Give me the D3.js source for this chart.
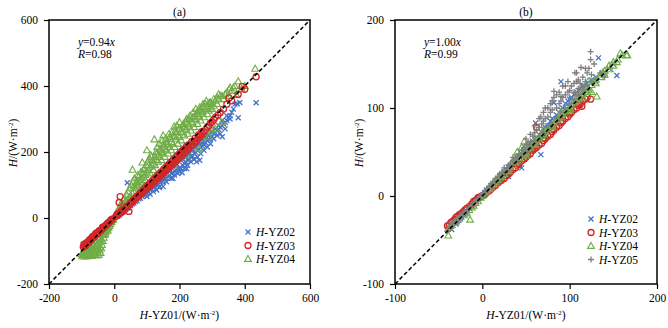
<!DOCTYPE html>
<html>
<head>
<meta charset="utf-8">
<script src="https://cdn.jsdelivr.net/npm/d3@7"></script>
<style>
  body { margin: 0; background: #fff; }
</style>
</head>
<body>
<div id="chart"></div>
<script>
// ---- data, [H-YZ01, H-station] pairs ----

// panel (a)
var aYZ02 = [[-95,-80],[-92,-85],[-90,-78],[-88,-82],[-85,-75],[-82,-72],[-80,-76],[-78,-68],[-75,-70],[-72,-62],[-70,-66],[-68,-58],[-65,-60],[-62,-55],[-60,-50],[-58,-54],[-55,-48],[-52,-45],[-50,-47],[-48,-40],[-45,-42],[-42,-36],[-40,-38],[-38,-32],[-35,-30],[-32,-28],[-30,-25],[-28,-26],[-25,-20],[-22,-19],[-20,-17],[-18,-14],[-15,-13],[-12,-10],[-10,-8],[-8,-7],[-5,-4],[-3,-2],
  [5,4],[8,10],[10,6],[12,12],[15,10],[18,16],[20,14],[22,20],[25,18],[28,24],[30,20],[32,28],[35,26],[38,30],[40,107],[40,32],[42,36],[45,30],[48,40],[50,38],[52,45],[55,42],[58,50],[60,45],[62,55],[65,50],[68,58],[70,52],[72,64],[75,58],[78,68],[80,60],[82,72],[85,65],[88,78],[90,68],[92,80],[95,72],[98,88],[100,75],[100,65],[102,90],[105,80],[108,95],[110,85],[110,72],[112,98],[115,88],[118,105],[120,92],[120,80],[122,108],[125,95],[128,112],[130,98],[130,85],[132,118],[135,102],[138,92],[140,108],[140,95],[142,125],[145,110],[148,130],[150,112],[150,95],[150,128],[152,135],[155,118],[158,140],[160,120],[160,110],[162,145],[165,125],[168,150],[170,130],[170,145],[172,155],[175,135],[175,120],[178,160],[180,138],[180,120],[182,165],[185,142],[185,130],[188,170],[190,145],[190,165],[192,175],[195,150],[195,135],[198,180],[200,152],[200,140],[205,185],[205,150],[208,137],[210,160],[210,178],[212,190],[215,165],[215,150],[218,195],[220,170],[220,185],[222,150],[225,175],[225,160],[228,200],[230,180],[230,195],[235,185],[235,170],[238,210],[240,188],[240,205],[245,195],[245,178],[248,220],[250,198],[250,215],[252,170],[255,205],[255,185],[258,228],[260,208],[260,222],[262,175],[265,215],[265,195],[268,235],[270,218],[270,230],[275,222],[275,205],[278,245],[280,228],[280,240],[285,235],[285,215],[288,250],[290,238],[290,250],[295,242],[295,225],[298,262],[300,248],[300,260],[305,255],[305,240],[310,258],[310,270],[315,265],[315,250],[320,268],[320,280],[325,275],[325,255],[330,280],[330,295],[331,246],[335,285],[340,290],[340,270],[345,295],[345,310],[350,305],[355,310],[355,300],[360,320],[365,330],[370,345],[380,304],[377,346],[385,350],[435,349]];

var aYZ03 = [[-95,-88],[-93,-80],[-92,-85],[-90,-80],[-88,-84],[-87,-76],[-85,-78],[-82,-76],[-80,-72],[-78,-74],[-76,-66],[-75,-68],[-72,-66],[-70,-62],[-68,-64],[-66,-56],[-65,-58],[-62,-56],[-60,-52],[-58,-54],[-56,-46],[-55,-48],[-52,-46],[-50,-44],[-48,-45],[-46,-38],[-45,-40],[-42,-38],[-40,-35],[-38,-34],[-36,-28],[-35,-30],[-32,-28],[-30,-26],[-28,-25],[-25,-22],[-22,-18],[-20,-16],[-18,-15],[-15,-12],[-12,-10],[-10,-6],[-8,-5],[-5,-3],
  [5,5],[8,10],[10,8],[12,14],[15,12],[18,65],[15,47],[20,16],[22,22],[25,20],[28,26],[30,25],[35,30],[38,36],[40,34],[45,20],[48,42],[50,45],[52,48],[55,48],[58,55],[60,52],[62,58],[65,58],[68,64],[70,62],[72,68],[75,66],[78,74],[80,72],[82,78],[85,76],[88,84],[90,80],[92,88],[95,85],[98,94],[100,90],[102,98],[105,94],[108,104],[110,98],[112,108],[115,104],[118,114],[120,108],[122,118],[125,112],[128,124],[130,118],[132,128],[135,122],[138,134],[140,126],[142,138],[145,130],[148,143],[150,135],[152,148],[155,140],[158,153],[160,145],[162,158],[165,150],[168,163],[170,155],[172,168],[175,160],[178,173],[180,163],[182,178],[185,168],[188,183],[190,172],[192,188],[195,178],[198,193],[200,182],[202,198],[205,188],[208,203],[210,192],[212,208],[215,198],[218,212],[220,202],[222,218],[225,208],[228,222],[230,212],[235,218],[238,232],[240,222],[245,228],[248,242],[250,232],[255,240],[258,252],[260,245],[265,250],[268,262],[270,255],[275,262],[280,268],[285,275],[290,280],[295,288],[300,292],[305,298],[310,305],[318,312],[325,320],[335,330],[345,345],[352,364],[360,355],[380,375],[392,398],[400,390],[435,428]];

var aYZ04 = [[-100,-110],[-98,-116],[-95,-105],[-95,-113],[-92,-100],[-92,-110],[-90,-95],[-90,-117],[-88,-106],[-85,-92],[-85,-112],[-82,-100],[-82,-108],[-80,-88],[-80,-116],[-78,-96],[-78,-106],[-75,-85],[-75,-112],[-72,-92],[-72,-102],[-70,-80],[-70,-110],[-68,-96],[-68,-115],[-65,-78],[-65,-104],[-62,-88],[-62,-112],[-60,-72],[-60,-98],[-58,-108],[-55,-68],[-55,-85],[-55,-114],[-52,-95],[-50,-62],[-50,-78],[-50,-105],[-48,-112],[-45,-58],[-45,-88],[-45,-98],[-42,-72],[-42,-106],[-40,-52],[-40,-65],[-40,-92],[-38,-82],[-35,-48],[-35,-70],[-32,-60],[-30,-40],[-30,-52],[-28,-48],[-25,-35],[-25,-42],[-22,-32],[-20,-26],[-20,-38],[-18,-30],[-15,-20],[-15,-25],[-12,-18],[-10,-12],[-8,-12],[-5,-6],[-3,-4],
  [5,8],[8,15],[10,12],[12,25],[15,20],[18,35],[20,28],[22,45],[25,35],[28,55],[30,40],[32,60],[35,50],[38,70],[40,55],[42,80],[45,60],[48,90],[50,65],[52,100],[55,75],[56,146],[58,110],[60,80],[60,95],[62,120],[65,90],[68,105],[70,95],[70,110],[72,130],[75,100],[75,125],[78,115],[80,110],[82,140],[85,120],[85,105],[86,168],[88,135],[90,125],[90,145],[92,150],[95,130],[95,115],[98,160],[100,140],[100,205],[102,170],[105,145],[105,160],[108,180],[110,155],[110,135],[112,190],[115,160],[115,185],[118,175],[120,165],[120,145],[123,238],[125,185],[125,160],[128,200],[130,175],[130,195],[132,215],[135,190],[135,170],[138,225],[140,185],[140,210],[140,130],[142,205],[145,200],[145,175],[148,235],[150,195],[150,220],[150,250],[152,215],[155,210],[155,185],[158,240],[160,205],[160,230],[160,150],[162,225],[165,220],[165,195],[168,255],[170,215],[170,245],[172,240],[175,230],[175,205],[178,260],[180,225],[180,250],[180,160],[184,277],[185,245],[185,215],[188,265],[190,240],[190,260],[192,280],[195,250],[195,225],[198,270],[200,245],[200,270],[200,290],[200,185],[205,265],[205,235],[210,260],[210,280],[212,285],[215,275],[215,250],[220,270],[220,290],[220,190],[222,300],[225,285],[225,255],[230,280],[230,300],[232,310],[235,295],[235,265],[240,290],[240,305],[240,215],[242,320],[245,305],[245,275],[250,300],[250,315],[250,330],[255,315],[255,285],[260,310],[260,325],[260,210],[262,335],[265,325],[265,295],[270,320],[270,335],[270,240],[272,345],[275,335],[275,305],[280,330],[280,345],[282,355],[285,340],[285,315],[290,246],[290,325],[291,349],[295,350],[295,335],[300,345],[300,330],[300,265],[305,360],[305,340],[310,270],[310,355],[315,365],[315,345],[320,360],[320,375],[325,370],[330,290],[330,370],[335,360],[340,375],[345,380],[350,370],[352,389],[355,395],[360,385],[365,395],[370,400],[375,372],[380,414],[390,390],[400,400],[432,452]];

// panel (b)
var bYZ02 = [[-40,-38],[-38,-36],[-35,-34],[-35,-38],[-33,-30],[-30,-27],[-30,-32],[-28,-26],[-25,-24],[-25,-26],[-22,-20],[-20,-18],[-20,-22],[-18,-17],[-15,-14],[-12,-11],[-10,-9],[-8,-6],[-5,-4],[-3,-2],[0,1],[3,4],[5,7],[8,9],[10,12],[10,10],[12,14],[15,16],[18,20],[20,23],[20,19],[22,24],[25,28],[25,24],[28,30],[30,33],[30,22],[32,35],[35,38],[35,35],[38,40],[40,44],[40,39],[42,45],[45,48],[45,32],[48,52],[50,54],[50,50],[52,56],[55,60],[55,57],[58,62],[60,65],[60,60],[62,66],[61,83],[65,70],[67,47],[68,72],[70,76],[70,72],[72,78],[75,80],[75,78],[78,85],[80,88],[80,82],[82,106],[85,92],[85,88],[88,95],[90,98],[90,130],[92,100],[95,105],[95,98],[98,108],[100,110],[100,102],[102,112],[105,115],[105,108],[108,118],[110,120],[110,113],[112,122],[115,125],[115,118],[118,120],[120,128],[125,132],[130,135],[133,157],[140,140],[145,145],[150,150],[154,137]];

var bYZ03 = [[-40,-34],[-38,-33],[-36,-30],[-34,-29],[-32,-27],[-30,-24],[-28,-23],[-26,-21],[-24,-20],[-22,-18],[-20,-16],[-18,-14],[-15,-12],[-12,-9],[-10,-6],[-8,-5],[-5,-2],[-3,-1],[0,0],[3,2],[5,4],[8,6],[10,8],[12,10],[15,12],[18,15],[20,17],[20,19],[22,18],[25,20],[28,23],[30,25],[30,27],[32,27],[35,30],[38,32],[40,35],[40,37],[42,36],[45,40],[48,42],[50,44],[50,47],[52,46],[55,48],[58,52],[60,54],[60,57],[62,78],[62,55],[65,58],[68,60],[70,63],[70,66],[72,65],[75,68],[78,70],[80,73],[80,76],[82,75],[85,78],[88,80],[90,83],[90,85],[92,85],[95,88],[98,90],[100,93],[100,95],[102,95],[105,98],[108,100],[110,103],[110,105],[112,104],[114,102],[115,108],[118,110],[120,112],[124,110]];

var bYZ04 = [[-39,-45],[-38,-36],[-35,-33],[-32,-30],[-30,-29],[-28,-27],[-25,-24],[-22,-22],[-20,-20],[-18,-19],[-15,-16],[-14,-27],[-12,-13],[-10,-11],[-8,-8],[-5,-6],[-2,-2],[0,0],[3,3],[5,5],[8,8],[10,10],[12,13],[15,15],[18,18],[20,21],[20,24],[22,22],[25,25],[28,28],[30,31],[30,28],[32,33],[35,35],[35,40],[38,38],[40,40],[40,50],[42,43],[45,46],[45,55],[48,48],[48,62],[50,50],[50,46],[52,53],[55,55],[58,58],[60,61],[60,58],[62,63],[65,66],[68,68],[70,70],[70,75],[72,73],[75,76],[78,78],[80,80],[80,78],[82,83],[85,86],[88,88],[90,90],[90,95],[92,93],[95,96],[98,98],[100,100],[100,97],[102,103],[105,106],[108,108],[110,110],[110,115],[112,113],[115,116],[115,112],[118,118],[120,122],[120,118],[121,130],[122,120],[125,126],[125,118],[128,130],[130,132],[130,128],[131,113],[135,135],[135,138],[138,140],[140,142],[140,138],[145,148],[146,144],[150,152],[150,148],[154,152],[155,155],[158,162],[160,160],[165,160],[166,160]];

var bYZ05 = [[-40,-40],[-37,-35],[-35,-33],[-35,-30],[-32,-30],[-30,-28],[-30,-30],[-28,-25],[-28,-30],[-25,-22],[-25,-25],[-22,-20],[-22,-22],[-20,-18],[-20,-20],[-18,-16],[-15,-13],[-15,-15],[-12,-10],[-10,-8],[-10,-10],[-8,-6],[-5,-3],[-5,-5],[-2,0],[0,2],[3,5],[5,8],[5,6],[8,10],[10,12],[10,14],[12,15],[15,18],[15,20],[18,20],[20,24],[20,20],[22,26],[25,28],[25,32],[28,32],[30,35],[30,30],[32,36],[35,40],[35,44],[38,43],[40,45],[40,40],[42,48],[45,52],[45,45],[48,55],[50,58],[50,50],[50,65],[52,60],[55,62],[55,70],[55,55],[58,68],[60,72],[60,62],[60,80],[62,75],[65,78],[65,88],[65,68],[67,90],[68,82],[70,85],[70,95],[70,72],[72,88],[72,100],[75,90],[75,100],[75,80],[78,95],[78,105],[80,98],[80,108],[80,82],[82,112],[82,119],[85,100],[85,115],[85,88],[88,105],[88,118],[90,108],[90,113],[90,95],[92,112],[92,125],[95,115],[95,125],[95,100],[98,118],[98,130],[100,120],[100,112],[100,105],[102,125],[105,128],[105,118],[105,110],[106,140],[108,130],[108,140],[110,132],[110,122],[110,115],[112,128],[113,146],[115,125],[115,135],[115,120],[118,130],[118,145],[120,140],[120,125],[122,145],[124,155],[124,164],[125,138],[125,130],[128,150],[130,132],[135,140],[140,135]];

var aTicks = [-200, 0, 200, 400, 600];
var bTicks = [-100, 0, 100, 200];

// ---- layout ----
var width = 668, height = 328;

var colors = { YZ02: "#4472c4", YZ03: "#d02828", YZ04: "#70ad47", YZ05: "#7f7f7f" };

var svg = d3.select("#chart")
  .append("svg")
    .attr("width", width)
    .attr("height", height)
    .attr("font-family", "Liberation Serif, Times New Roman, serif");

// marker drawing helpers
function drawMarks(g, data, x, y, kind, color) {
  var sel = g.selectAll(null).data(data).enter();
  if (kind == "cross") {
    sel.append("path")
      .attr("d", function(d) {
        var cx = x(d[0]), cy = y(d[1]), s = 2.5;
        return "M" + (cx - s) + "," + (cy - s) + "L" + (cx + s) + "," + (cy + s) +
               "M" + (cx - s) + "," + (cy + s) + "L" + (cx + s) + "," + (cy - s);
      })
      .attr("stroke", color).attr("stroke-width", 1.3).attr("fill", "none");
  } else if (kind == "plus") {
    sel.append("path")
      .attr("d", function(d) {
        var cx = x(d[0]), cy = y(d[1]), s = 3;
        return "M" + (cx - s) + "," + cy + "L" + (cx + s) + "," + cy +
               "M" + cx + "," + (cy - s) + "L" + cx + "," + (cy + s);
      })
      .attr("stroke", color).attr("stroke-width", 1.3).attr("fill", "none");
  } else if (kind == "circle") {
    sel.append("circle")
      .attr("cx", function(d) { return x(d[0]); })
      .attr("cy", function(d) { return y(d[1]); })
      .attr("r", 3)
      .attr("stroke", color).attr("stroke-width", 1.3).attr("fill", "none");
  } else {
    sel.append("path")
      .attr("d", function(d) {
        var cx = x(d[0]), cy = y(d[1]);
        return "M" + cx + "," + (cy - 3.6) + "L" + (cx + 3.4) + "," + (cy + 2.4) +
               "L" + (cx - 3.4) + "," + (cy + 2.4) + "Z";
      })
      .attr("stroke", color).attr("stroke-width", 1.1).attr("fill", "none");
  }
}

function panel(opt) {
  var x = d3.scaleLinear().domain(opt.domain).range([opt.left, opt.right]);
  var y = d3.scaleLinear().domain(opt.domain).range([opt.bottom, opt.top]);
  var g = svg.append("g");

  // series
  opt.series.forEach(function(s) {
    drawMarks(g.append("g"), s.data, x, y, s.kind, s.color);
  });

  // 1:1 line
  g.append("line")
    .attr("x1", x(opt.domain[0])).attr("y1", y(opt.domain[0]))
    .attr("x2", x(opt.domain[1])).attr("y2", y(opt.domain[1]))
    .attr("stroke", "#000").attr("stroke-width", 1.5)
    .attr("stroke-dasharray", "4,2.5");

  // axes
  var xa = g.append("g")
    .attr("transform", "translate(0," + opt.bottom + ")")
    .call(d3.axisBottom(x).tickValues(opt.ticks).tickSize(5).tickPadding(5)
      .tickFormat(function(d) { return String(d); }));
  var ya = g.append("g")
    .attr("transform", "translate(" + opt.left + ",0)")
    .call(d3.axisLeft(y).tickValues(opt.ticks).tickSize(5).tickPadding(6)
      .tickFormat(function(d) { return String(d); }));
  [xa, ya].forEach(function(a) {
    a.attr("font-family", null).attr("font-size", null);
    a.select(".domain").remove();
    a.selectAll("text").attr("font-size", "11.5px").attr("fill", "#000");
    a.selectAll("line").attr("stroke", "#000").attr("stroke-width", 1.2);
  });

  // frame
  g.append("rect")
    .attr("x", opt.left).attr("y", opt.top)
    .attr("width", opt.right - opt.left).attr("height", opt.bottom - opt.top)
    .attr("fill", "none").attr("stroke", "#000").attr("stroke-width", 1.5);

  // title
  g.append("text")
    .attr("x", (opt.left + opt.right) / 2).attr("y", 16)
    .attr("text-anchor", "middle").attr("font-size", "11.5px")
    .text(opt.title);

  // fit text
  var t1 = g.append("text").attr("x", opt.left + 29).attr("y", 46).attr("font-size", "11.5px");
  t1.append("tspan").attr("font-style", "italic").text("y");
  t1.append("tspan").text("=" + opt.slope);
  t1.append("tspan").attr("font-style", "italic").text("x");
  var t2 = g.append("text").attr("x", opt.left + 29).attr("y", 58).attr("font-size", "11.5px");
  t2.append("tspan").attr("font-style", "italic").text("R");
  t2.append("tspan").text("=" + opt.r);

  // axis titles
  var xl = g.append("text")
    .attr("x", (opt.left + opt.right) / 2).attr("y", 319)
    .attr("text-anchor", "middle").attr("font-size", "11.5px");
  xl.append("tspan").attr("font-style", "italic").text("H");
  xl.append("tspan").text("-YZ01/(W·m");
  xl.append("tspan").attr("font-size", "7px").attr("dy", "-4").text("-2");
  xl.append("tspan").attr("dy", "4").text(")");

  var yl = g.append("text")
    .attr("transform", "translate(" + (opt.left - 32) + ",143) rotate(-90)")
    .attr("text-anchor", "middle").attr("font-size", "11.5px");
  yl.append("tspan").attr("font-style", "italic").text("H");
  yl.append("tspan").text("/(W·m");
  yl.append("tspan").attr("font-size", "7px").attr("dy", "-4").text("-2");
  yl.append("tspan").attr("dy", "4").text(")");

  // legend
  opt.legend.forEach(function(s, i) {
    var ly = opt.legendY + i * 13.5;
    drawMarks(g.append("g"), [[0, 0]],
      function() { return opt.legendX; }, function() { return ly; }, s.kind, s.color);
    var lt = g.append("text").attr("x", opt.legendX + 8).attr("y", ly + 4).attr("font-size", "11.5px");
    lt.append("tspan").attr("font-style", "italic").text("H");
    lt.append("tspan").text("-" + s.name);
  });
}

var sA = [
  { name: "YZ02", data: aYZ02, kind: "cross", color: colors.YZ02 },
  { name: "YZ04", data: aYZ04, kind: "triangle", color: colors.YZ04 },
  { name: "YZ03", data: aYZ03, kind: "circle", color: colors.YZ03 }
];
var sB = [
  { name: "YZ02", data: bYZ02, kind: "cross", color: colors.YZ02 },
  { name: "YZ03", data: bYZ03, kind: "circle", color: colors.YZ03 },
  { name: "YZ04", data: bYZ04, kind: "triangle", color: colors.YZ04 },
  { name: "YZ05", data: bYZ05, kind: "plus", color: colors.YZ05 }
];

panel({
  domain: [-200, 600], ticks: aTicks, left: 49, right: 310, top: 20, bottom: 284,
  title: "(a)", slope: "0.94", r: "0.98", series: sA,
  legend: [sA[0], sA[2], sA[1]], legendX: 248, legendY: 232
});
panel({
  domain: [-100, 200], ticks: bTicks, left: 395, right: 657, top: 20, bottom: 284,
  title: "(b)", slope: "1.00", r: "0.99", series: sB,
  legend: sB, legendX: 591, legendY: 219
});
</script>
</body>
</html>
